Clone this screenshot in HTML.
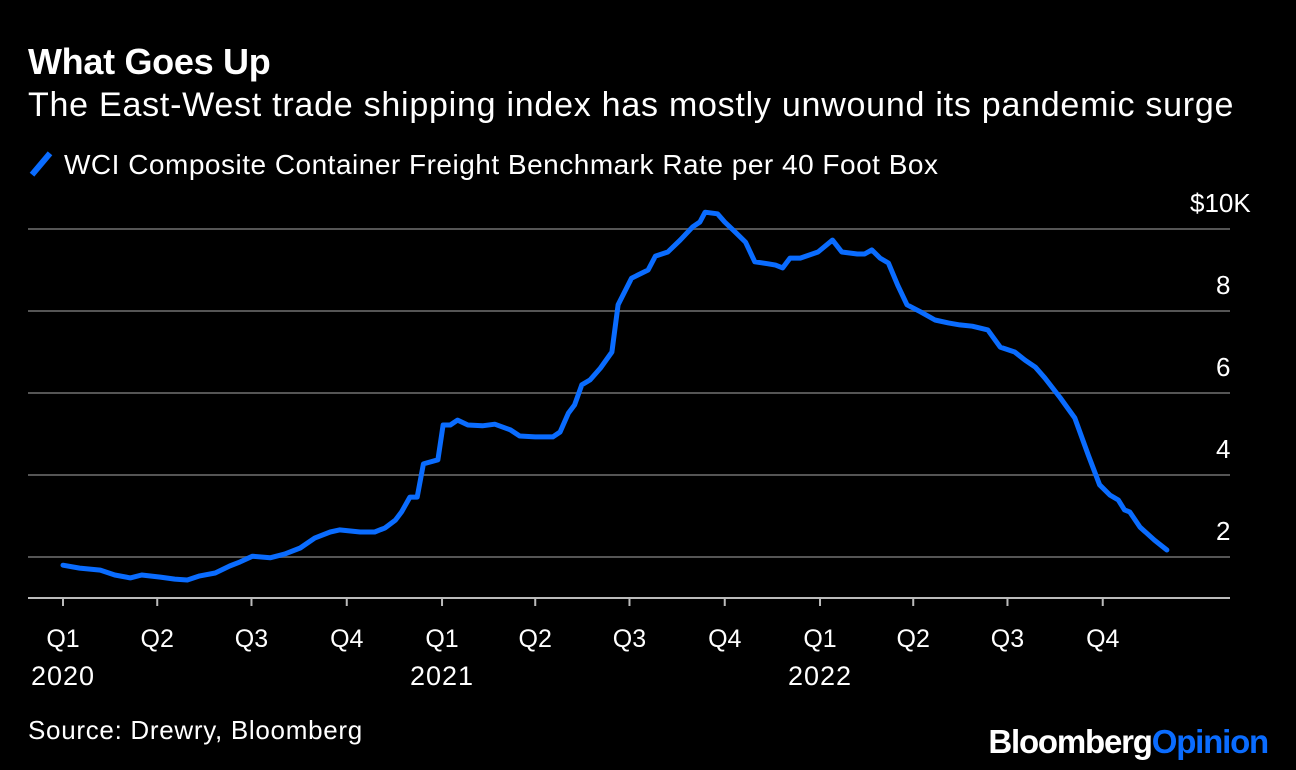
<!DOCTYPE html>
<html><head><meta charset="utf-8"><style>
body{margin:0;background:#000;width:1296px;height:770px;overflow:hidden;font-family:"Liberation Sans",Arial,sans-serif;color:#fff}
.t{position:absolute;white-space:nowrap;line-height:1}
</style></head><body>
<div class="t" style="left:28px;top:44px;font-size:36px;font-weight:bold;letter-spacing:-0.3px">What Goes Up</div>
<div class="t" style="left:28px;top:88px;font-size:34px;letter-spacing:0.75px">The East-West trade shipping index has mostly unwound its pandemic surge</div>
<div class="t" style="left:28px;top:150px;font-size:28px;letter-spacing:0.5px"><span style="display:inline-block;width:6px;height:28px;background:#0a6cff;transform:rotate(40deg);vertical-align:-4px;margin:0 20px 0 10px"></span>WCI Composite Container Freight Benchmark Rate per 40 Foot Box</div>
<svg id="c" width="1296" height="770" style="position:absolute;left:0;top:0"></svg>
<div class="t" style="left:28px;top:717px;font-size:26px;letter-spacing:0.7px">Source: Drewry, Bloomberg</div>
<div class="t" style="right:28px;top:725px;font-size:33px;font-weight:bold;letter-spacing:-1.2px">Bloomberg<span style="color:#0a6cff">Opinion</span></div>
<script>
const days=[0,16,36,50,65,76,94,108,120,132,147,161,171,183,200,214,229,243,258,267,287,301,311,321,327,335,342,348,362,367,374,381,391,405,417,432,441,456,473,480,488,494,501,509,519,530,536,549,565,572,584,596,608,615,620,632,639,649,659,668,681,688,695,702,712,729,743,752,767,774,781,789,797,806,815,828,842,855,866,878,893,905,919,929,939,948,963,977,990,1001,1011,1019,1025,1030,1040,1054,1066];
const rates=[1.80,1.73,1.68,1.56,1.49,1.56,1.51,1.46,1.44,1.54,1.61,1.78,1.88,2.02,1.98,2.07,2.22,2.46,2.61,2.66,2.61,2.61,2.71,2.90,3.10,3.46,3.46,4.27,4.37,5.22,5.22,5.34,5.22,5.20,5.24,5.10,4.95,4.93,4.93,5.05,5.51,5.71,6.20,6.32,6.61,7.00,8.15,8.80,9.00,9.34,9.44,9.73,10.05,10.17,10.41,10.37,10.17,9.93,9.68,9.20,9.15,9.12,9.05,9.29,9.29,9.44,9.73,9.44,9.39,9.39,9.49,9.29,9.17,8.63,8.15,7.98,7.78,7.71,7.66,7.63,7.54,7.12,7.00,6.80,6.63,6.37,5.88,5.39,4.49,3.76,3.51,3.39,3.15,3.10,2.73,2.41,2.17];
const yTicks=[2,4,6,8,10];
const yLabels=["2","4","6","8","$10K"];
const qDays=[0,91,182,274,366,456,547,639,731,821,912,1004];
const qLabels=["Q1","Q2","Q3","Q4","Q1","Q2","Q3","Q4","Q1","Q2","Q3","Q4"];
const yearLabels={0:"2020",4:"2021",8:"2022"};
const X=d=>63+d*1.0356, Y=v=>639-v*41;
const s=document.getElementById('c'),NS='http://www.w3.org/2000/svg';
function mk(t,a,txt){const e=document.createElementNS(NS,t);for(const k in a)e.setAttribute(k,a[k]);if(txt!=null)e.textContent=txt;s.appendChild(e);return e;}
const F='Liberation Sans, sans-serif';
yTicks.forEach((v,i)=>{
 const g=mk('line',{x1:28,x2:1230,y1:Y(v),y2:Y(v),stroke:'#555','stroke-width':2});
 
 
 const lab=yLabels[i];
 const t=mk('text',{x:lab.length>2?1190:1216,y:Y(v)-17,'font-size':26,fill:'#fff','font-family':F},lab);
 
 
});
const ax=mk('line',{x1:28,x2:1230,y1:598,y2:598,stroke:'#bbb','stroke-width':2});


qDays.forEach((d,i)=>{
 const tk=mk('line',{x1:X(d),x2:X(d),y1:598,y2:606,stroke:'#bbb','stroke-width':2});
 
 
 const t=mk('text',{x:X(d),y:647,'text-anchor':'middle','font-size':25,fill:'#fff','font-family':F},qLabels[i]);
 
 
 if(yearLabels[i]){const y=mk('text',{x:X(d),y:685,'text-anchor':'middle','font-size':27,'letter-spacing':1,fill:'#fff','font-family':F},yearLabels[i]);
 
 }
});
const p=mk('path',{d:days.map((d,i)=>(i?'L':'M')+X(d).toFixed(1)+','+Y(rates[i]).toFixed(1)).join(''),fill:'none',stroke:'#0a6cff','stroke-width':5,'stroke-linejoin':'round','stroke-linecap':'round'});


</script>
</body></html>
